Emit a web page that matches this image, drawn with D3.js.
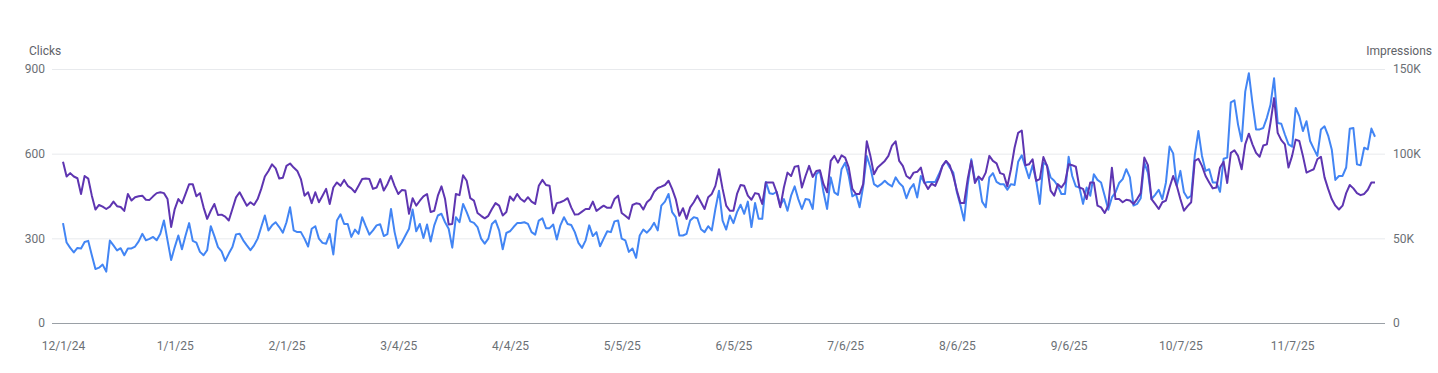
<!DOCTYPE html>
<html>
<head>
<meta charset="utf-8">
<script src="https://cdn.jsdelivr.net/npm/d3@7"></script>
<style>
  body { margin: 0; background: #fff; font-family: Roboto, Arial, sans-serif; }
  .axis text { fill: #6b7075; font-size: 12px; font-family: Roboto, Arial, sans-serif; }
  .axis .domain { display: none; }
</style>
</head>
<body>
<div id="chart"></div>
<script>
// daily data, one value per day starting 12/1/24
var startDate = "2024-12-01";

// clicks per day (left axis)
var clicks = [
  354,285,266,250,266,264,287,291,240,191,196,207,182,292,275,257,265,240,264,264,271,289,316,293,298,305,293,316,363,
  293,223,269,310,261,310,354,291,285,252,240,258,343,308,269,254,220,246,269,314,316,293,275,258,275,299,340,381,328,346,357,
  340,320,357,410,328,322,322,299,271,334,343,299,284,281,316,243,363,385,351,351,305,331,316,375,343,313,328,346,350,308,315,
  404,322,266,285,310,334,402,325,351,301,349,289,346,381,387,357,334,267,375,357,422,393,360,355,340,299,281,299,351,363,
  328,261,319,325,340,354,354,357,351,322,313,363,371,336,336,349,296,346,375,351,347,322,284,266,293,346,308,322,272,299,325,
  322,360,363,299,293,252,264,231,310,331,320,334,355,328,416,430,457,393,375,310,310,316,363,375,371,332,322,343,328,404,469,
  363,331,381,354,393,419,387,430,340,425,369,369,500,460,457,465,416,439,398,451,484,439,404,439,437,404,527,539,463,404,516,
  463,454,545,568,521,449,457,410,484,592,551,492,483,492,504,492,484,516,496,484,442,475,492,445,521,496,500,500,500,527,557,
  574,551,533,463,416,363,489,580,507,512,430,410,516,531,500,492,492,472,492,489,571,594,554,513,559,504,422,568,559,516,504,
  486,457,457,589,521,484,480,422,480,451,527,507,498,451,401,445,463,496,510,545,516,416,422,442,568,533,439,454,472,439,
  498,625,601,486,539,463,442,451,594,680,592,539,545,498,498,465,582,586,782,789,703,644,820,885,779,686,686,691,727,773,867,
  709,706,668,633,625,762,733,680,715,645,618,592,686,697,664,615,507,521,521,551,688,691,562,559,621,615,689,660
];

// impressions per day, in thousands (right axis)
var impressionsK = [
  95.2,86.5,88.5,86.5,85.5,76.2,86.8,85.3,75.2,67.0,69.7,68.7,67.3,68.7,71.7,69.0,68.5,66.2,76.2,72.3,74.3,74.8,75.2,72.8,72.7,74.8,76.7,77.2,76.7,
  73.2,56.7,67.3,73.2,70.7,76.2,82.0,82.0,74.8,76.7,68.3,61.5,66.3,70.3,63.8,64.0,62.8,60.5,67.3,74.2,77.2,73.2,69.3,71.3,69.7,73.2,79.2,86.5,89.8,93.7,91.3,
  85.3,85.8,92.8,94.2,91.8,89.8,85.0,75.2,77.2,70.8,77.2,71.3,75.2,79.2,70.3,80.0,83.0,81.0,84.5,81.0,79.5,77.2,81.0,85.0,85.3,85.0,79.2,80.0,85.0,78.2,82.0,
  86.8,81.0,76.2,78.5,78.2,64.5,73.7,69.3,72.2,74.8,76.2,65.5,66.3,75.2,80.7,73.2,58.2,58.5,76.2,75.5,87.3,84.0,73.7,72.3,65.0,63.3,61.8,63.3,67.3,70.8,
  69.3,63.5,65.5,74.7,72.3,76.2,73.2,71.7,74.3,71.7,70.3,81.0,84.5,81.5,81.0,64.8,70.8,71.3,72.3,73.7,68.3,64.0,64.2,65.8,67.3,67.3,71.7,66.2,67.8,69.3,68.0,
  68.0,73.2,75.2,65.0,63.3,61.5,69.7,70.7,70.3,67.0,71.3,73.2,77.5,79.7,80.5,81.5,84.0,79.2,73.2,63.3,67.8,61.5,68.3,71.3,75.2,71.3,67.3,74.3,76.2,81.0,90.8,
  79.2,69.3,66.3,66.3,76.2,81.5,81.0,75.2,72.8,76.7,76.2,70.3,83.0,83.0,83.0,77.2,68.3,80.0,88.8,86.8,92.3,92.8,80.0,86.8,92.8,86.3,89.8,90.2,82.0,77.2,95.7,
  98.7,94.7,99.0,97.7,91.8,79.2,76.2,76.2,82.0,107.3,98.7,87.8,91.8,93.7,95.7,98.7,104.8,107.3,95.7,92.8,86.8,85.3,88.8,89.3,91.8,83.0,79.2,82.3,81.0,86.0,92.8,
  95.7,93.2,86.8,78.2,70.8,70.8,85.0,95.7,82.7,86.5,84.5,88.8,98.7,95.7,94.3,88.5,87.8,80.7,90.8,103.5,112.3,113.7,93.2,93.7,96.7,84.0,85.0,98.0,92.8,78.2,75.2,
  82.0,80.0,83.0,93.7,93.2,92.3,80.0,79.2,73.2,83.0,83.0,69.3,68.3,65.0,69.3,91.7,73.2,73.2,71.3,72.8,72.3,70.3,73.2,76.7,97.7,93.2,73.2,70.3,67.3,71.3,
  72.3,80.0,86.8,81.0,73.2,66.3,69.0,71.3,95.7,97.0,92.8,86.8,83.0,79.5,80.0,91.8,95.2,82.7,100.5,102.0,98.7,90.8,105.5,111.8,105.5,100.5,98.2,104.8,105.5,118.2,132.8,
  112.3,108.0,105.5,91.8,98.7,108.3,107.5,98.7,88.8,89.8,90.8,96.7,98.2,86.0,79.2,73.2,69.3,67.0,69.3,76.7,81.5,79.5,76.7,75.5,76.2,78.7,83.0,83.0
];

var xTickLabels = ["12/1/24", "1/1/25", "2/1/25", "3/4/25", "4/4/25", "5/5/25",
                   "6/5/25", "7/6/25", "8/6/25", "9/6/25", "10/7/25", "11/7/25"];
var clickTicks = [0, 300, 600, 900];
var impressionTicks = [0, 50, 100, 150];

// dimensions
var W = 1438, H = 373;
var gridLeft = 52, gridRight = 1385;
var plotTop = 69, plotBottom = 323;

var parseDay = d3.timeParse("%Y-%m-%d");
var parseTick = d3.timeParse("%-m/%-d/%y");
var start = parseDay(startDate);
var days = clicks.map(function (d, i) { return d3.timeDay.offset(start, i); });

var x = d3.scaleTime()
    .domain([days[0], days[days.length - 1]])
    .range([63, 1375]);
var yL = d3.scaleLinear().domain([0, 900]).range([plotBottom, plotTop]);
var yR = d3.scaleLinear().domain([0, 150]).range([plotBottom, plotTop]);

var svg = d3.select("#chart").append("svg")
    .attr("width", W)
    .attr("height", H);

// left axis + gridlines
var gL = svg.append("g")
    .attr("class", "axis")
    .attr("transform", "translate(" + gridLeft + ",0)")
    .call(d3.axisLeft(yL)
        .tickValues(clickTicks)
        .tickSize(-(gridRight - gridLeft))
        .tickPadding(7)
        .tickFormat(d3.format("d")));
gL.selectAll(".tick line")
    .attr("stroke", function (d) { return d === 0 ? "#9aa0a6" : "#e8eaed"; })
    .attr("stroke-width", 1);

// right axis
svg.append("g")
    .attr("class", "axis")
    .attr("transform", "translate(" + gridRight + ",0)")
    .call(d3.axisRight(yR)
        .tickValues(impressionTicks)
        .tickSize(0)
        .tickPadding(8)
        .tickFormat(function (d) { return d === 0 ? "0" : d + "K"; }));

// bottom axis
svg.append("g")
    .attr("class", "axis")
    .attr("transform", "translate(0," + plotBottom + ")")
    .call(d3.axisBottom(x)
        .tickValues(xTickLabels.map(parseTick))
        .tickSize(0)
        .tickPadding(18)
        .tickFormat(d3.timeFormat("%-m/%-d/%y")));

// axis titles
svg.append("text")
    .attr("x", 29).attr("y", 55)
    .style("font-size", "12px").style("fill", "#5f6368")
    .text("Clicks");
svg.append("text")
    .attr("x", 1432).attr("y", 55)
    .attr("text-anchor", "end")
    .style("font-size", "12px").style("fill", "#5f6368")
    .text("Impressions");

// lines
var clickLine = d3.line()
    .x(function (d, i) { return x(days[i]); })
    .y(function (d) { return yL(d); });
var imprLine = d3.line()
    .x(function (d, i) { return x(days[i]); })
    .y(function (d) { return yR(d); });

svg.append("path")
    .datum(clicks)
    .attr("fill", "none")
    .attr("stroke", "#4285f4")
    .attr("stroke-width", 2)
    .attr("stroke-linejoin", "round")
    .attr("d", clickLine);

svg.append("path")
    .datum(impressionsK)
    .attr("fill", "none")
    .attr("stroke", "#5e35b1")
    .attr("stroke-width", 2)
    .attr("stroke-linejoin", "round")
    .attr("d", imprLine);
</script>
</body>
</html>
